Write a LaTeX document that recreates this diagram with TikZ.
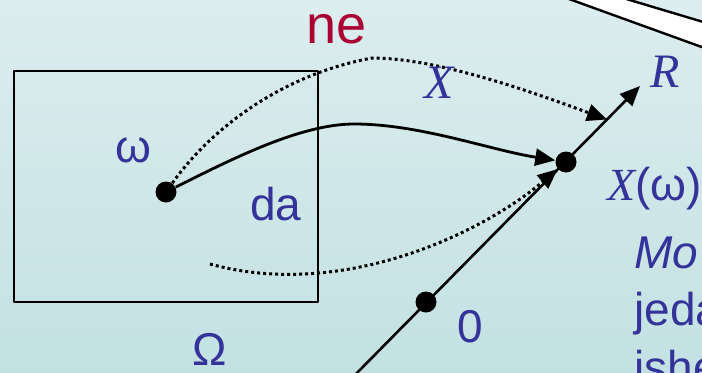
\documentclass[tikz,border=0pt]{standalone}
\usepackage{fontspec}
\setmainfont{Liberation Sans}
\newfontfamily\tms{Liberation Serif}
\usetikzlibrary{arrows.meta}
\definecolor{bgtop}{HTML}{DCEDEE}
\definecolor{bgbot}{HTML}{C3E1E3}
\definecolor{txtblue}{HTML}{333399}
\definecolor{nered}{HTML}{AA0033}
\begin{document}
\begin{tikzpicture}[x=0.5pt,y=-0.5pt,line join=round,>={Triangle[length=10pt,width=8.5pt]},
	lab/.style={text=txtblue,font=\fontsize{23}{27}\selectfont,inner sep=0pt,anchor=base},
	pt/.style={circle,fill=black,inner sep=0pt,minimum size=10.5pt},
	dots/.style={line width=1.5pt,dash pattern=on 1.5pt off 1.5pt}]
	\useasboundingbox (0,0) rectangle (702,372);
	\clip (0,0) rectangle (702,372);
	\shade[top color=bgtop,bottom color=bgbot] (0,0) rectangle (702,372);
	\fill[white] (560,-5) -- (615,-5) -- (710,24) -- (710,50) -- cycle;
	\draw[line width=1.2pt] (558,-5) -- (710,50) (613,-5) -- (710,24);
	\draw[line width=1.4pt] (14,71) rectangle (318,302);
	\coordinate (axs) at (350,380);
	\coordinate (axe) at (640,86);
	\coordinate (hit) at (607,119.5);
	\coordinate (low) at (210,264);
	\draw[line width=1.3pt,->] (axs) -- (axe);
	\node[pt] (w) at (166,192) {};
	\node[pt] (zero) at (426,302) {};
	\node[pt] (xw) at (566,162) {};
	\draw[line width=1.4pt,->] (w) .. controls (230,160) and (300,124) .. (354,124)
		.. controls (420,124) and (490,150) .. (xw);
	\draw[dots,->] (w) .. controls (210,130) and (280,75) .. (372,58)
		.. controls (440,58) and (540,95) .. (hit);
	\draw[dots,->] (low) .. controls (340,300) and (480,235) .. (xw);
	\node[lab,text=nered,font=\fontsize{27}{32}\selectfont] (ne) at (337,43) {ne};
	\node[lab] (om) at (133,162) {ω};
	\node[lab] (da) at (276,220) {da};
	\node[lab] (Om) at (210,365) {Ω};
	\node[lab] (nul) at (470,342) {0};
	\node[lab,font=\fontsize{24}{28}\tms\itshape] (X) at (439,98) {X};
	\node[lab,font=\fontsize{24}{28}\tms\itshape] (R) at (665,87) {R};
	\node[lab,anchor=base west] (Xw) at (607,200) {{\tms\itshape X}(ω)};
	\node[lab,anchor=base west] (mo) at (634,268) {\itshape Mo};
	\node[lab,anchor=base west] (jeda) at (634,325) {jeda};
	\node[lab,anchor=base west] (ishe) at (634,383) {ishe};
\end{tikzpicture}
\end{document}
